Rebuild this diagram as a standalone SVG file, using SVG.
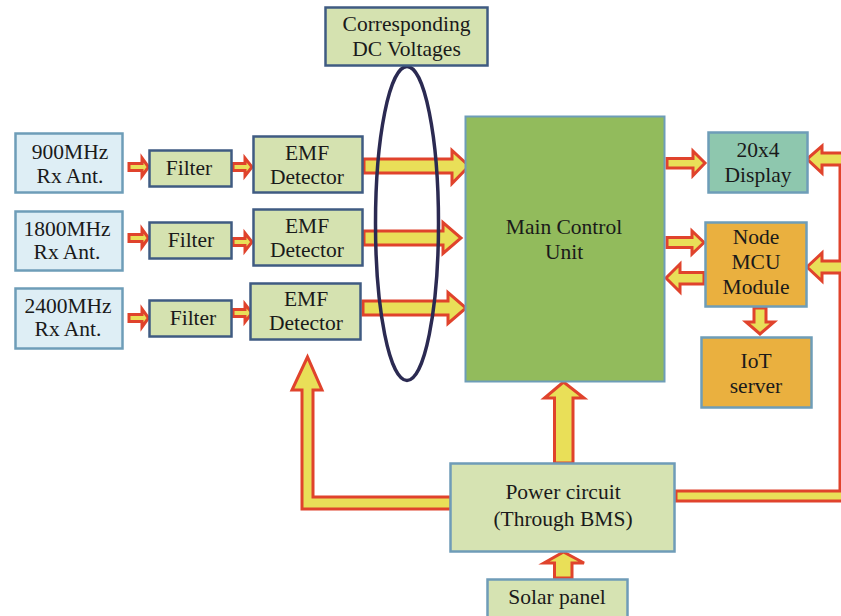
<svg xmlns="http://www.w3.org/2000/svg" width="841" height="616" viewBox="0 0 841 616">
  <style>
    .t { font-family: "Liberation Serif", "Times New Roman", serif; font-size: 21.5px; fill: #1a1a1a; text-anchor: middle; }
    .ant { fill: #deeef5; stroke: #6e9db8; stroke-width: 2.5; }
    .blk { fill: #d5e2b0; stroke: #3f5b82; stroke-width: 2.5; }
    .pwr { fill: #d6e3b2; stroke: #6f9cb8; stroke-width: 2.5; }
    .mcu { fill: #92bb5c; stroke: #6e9db8; stroke-width: 2; }
    .disp { fill: #8ec7ae; stroke: #6e9db8; stroke-width: 2.5; }
    .org { fill: #eab03f; stroke: #6e9db8; stroke-width: 2.5; }
    .arr { fill: #e9df58; stroke: #e0432c; stroke-width: 3; stroke-linejoin: miter; }
  </style>

  <rect width="841" height="616" fill="#ffffff"/>

  <!-- connectors -->
  <g id="connectors">
    <!-- antenna to filter -->
    <polygon class="arr" points="129,163.5 142,163.5 142,158 148.5,167 142,176 142,170.5 129,170.5"/>
    <polygon class="arr" points="129,234.5 142,234.5 142,229 148.5,238 142,247 142,241.5 129,241.5"/>
    <polygon class="arr" points="129,314.5 142,314.5 142,309 148.5,318 142,327 142,321.5 129,321.5"/>
    <!-- filter to detector -->
    <polygon class="arr" points="233,163.5 245,163.5 245,158 252,167 245,176 245,170.5 233,170.5"/>
    <polygon class="arr" points="233,238.5 245,238.5 245,233 252,242 245,251 245,245.5 233,245.5"/>
    <polygon class="arr" points="233,309.5 245,309.5 245,304 252,313 245,322 245,316.5 233,316.5"/>
    <!-- detector to main control unit -->
    <polygon class="arr" points="364,159 452,159 452,150.5 469,166 452,183.5 452,173 364,173"/>
    <polygon class="arr" points="364,231 443,231 443,222.5 461,238 443,253.5 443,245 364,245"/>
    <polygon class="arr" points="363,301 448,301 448,292.5 466,308 448,323.5 448,315 363,315"/>
    <!-- main control unit to display / node mcu -->
    <polygon class="arr" points="667,158.5 693,158.5 693,151 705,163 693,175.5 693,168 667,168"/>
    <polygon class="arr" points="667,237.5 692,237.5 692,231 704,242.5 692,254 692,247.5 667,247.5"/>
    <!-- node mcu back to main control unit -->
    <polygon class="arr" points="704,272.5 680,272.5 680,264 666,278 680,292 680,284 704,284"/>
    <!-- node mcu to iot server -->
    <polygon class="arr" points="754,308 766,308 766,322 774,322 760,334 746,322 754,322"/>
    <!-- power circuit to main control unit -->
    <polygon class="arr" points="554.5,463 554.5,398 544.5,398 563.5,382 584,398 573,398 573,463"/>
    <!-- solar panel to power circuit -->
    <polygon class="arr" points="554.5,578 554.5,563 544,563 563.5,552 584,563 572,563 572,578"/>
    <!-- power circuit to detectors -->
    <polygon class="arr" points="451,497 313,497 313,390 322,390 307.5,357 292,390 302,390 302,509 451,509"/>
    <!-- power circuit to display and node mcu -->
    <polygon class="arr" points="676,491 840,491 840,273 822,273 822,281 807,267 822,253 822,261 840,261 840,165 822,165 822,173 807,159 822,146 822,153 853,153 853,501 676,501"/>
  </g>

  <!-- grouping ellipse -->
  <ellipse cx="407" cy="223.5" rx="31.5" ry="157" fill="none" stroke="#2b2a52" stroke-width="3.5"/>

  <g id="dc-voltages">
    <rect class="blk" x="325.5" y="7.5" width="162" height="58"/>
    <text class="t" x="406.5" y="31">Corresponding</text>
    <text class="t" x="406.5" y="56">DC Voltages</text>
  </g>

  <g id="ant-900">
    <rect class="ant" x="15.5" y="133.5" width="107" height="59"/>
    <text class="t" x="70" y="159">900MHz</text>
    <text class="t" x="70" y="183">Rx Ant.</text>
  </g>
  <g id="ant-1800">
    <rect class="ant" x="15.5" y="211.5" width="107" height="59"/>
    <text class="t" x="67" y="236">1800MHz</text>
    <text class="t" x="67" y="259">Rx Ant.</text>
  </g>
  <g id="ant-2400">
    <rect class="ant" x="15.5" y="288.5" width="107" height="60"/>
    <text class="t" x="68" y="313">2400MHz</text>
    <text class="t" x="68" y="336">Rx Ant.</text>
  </g>

  <g id="filter-1">
    <rect class="blk" x="149.5" y="150.5" width="82" height="36"/>
    <text class="t" x="189" y="175">Filter</text>
  </g>
  <g id="filter-2">
    <rect class="blk" x="149.5" y="222.5" width="82" height="36"/>
    <text class="t" x="191" y="247">Filter</text>
  </g>
  <g id="filter-3">
    <rect class="blk" x="149.5" y="300.5" width="82" height="36"/>
    <text class="t" x="193" y="325">Filter</text>
  </g>

  <g id="emf-1">
    <rect class="blk" x="253.5" y="136.5" width="109" height="56"/>
    <text class="t" x="307" y="160">EMF</text>
    <text class="t" x="307" y="184">Detector</text>
  </g>
  <g id="emf-2">
    <rect class="blk" x="253.5" y="209.5" width="109" height="56"/>
    <text class="t" x="307" y="233">EMF</text>
    <text class="t" x="307" y="257">Detector</text>
  </g>
  <g id="emf-3">
    <rect class="blk" x="250.5" y="283.5" width="110" height="56"/>
    <text class="t" x="306" y="306">EMF</text>
    <text class="t" x="306" y="330">Detector</text>
  </g>

  <g id="main-control">
    <rect class="mcu" x="465.5" y="116.5" width="199" height="265"/>
    <text class="t" x="564" y="234">Main Control</text>
    <text class="t" x="564" y="259">Unit</text>
  </g>

  <g id="display">
    <rect class="disp" x="708.5" y="132.5" width="99" height="60"/>
    <text class="t" x="758" y="157">20x4</text>
    <text class="t" x="758" y="182">Display</text>
  </g>

  <g id="node-mcu">
    <rect class="org" x="705.5" y="222.5" width="101" height="84"/>
    <text class="t" x="756" y="244">Node</text>
    <text class="t" x="756" y="269">MCU</text>
    <text class="t" x="756" y="294">Module</text>
  </g>

  <g id="iot-server">
    <rect class="org" x="701.5" y="337.5" width="110" height="70"/>
    <text class="t" x="756" y="368">IoT</text>
    <text class="t" x="756" y="393">server</text>
  </g>

  <g id="power-circuit">
    <rect class="pwr" x="450.5" y="463.5" width="224" height="88"/>
    <text class="t" x="563" y="499">Power circuit</text>
    <text class="t" x="563" y="526">(Through BMS)</text>
  </g>

  <g id="solar-panel">
    <rect class="pwr" x="487.5" y="579.5" width="140" height="40"/>
    <text class="t" x="557" y="604">Solar panel</text>
  </g>
</svg>
